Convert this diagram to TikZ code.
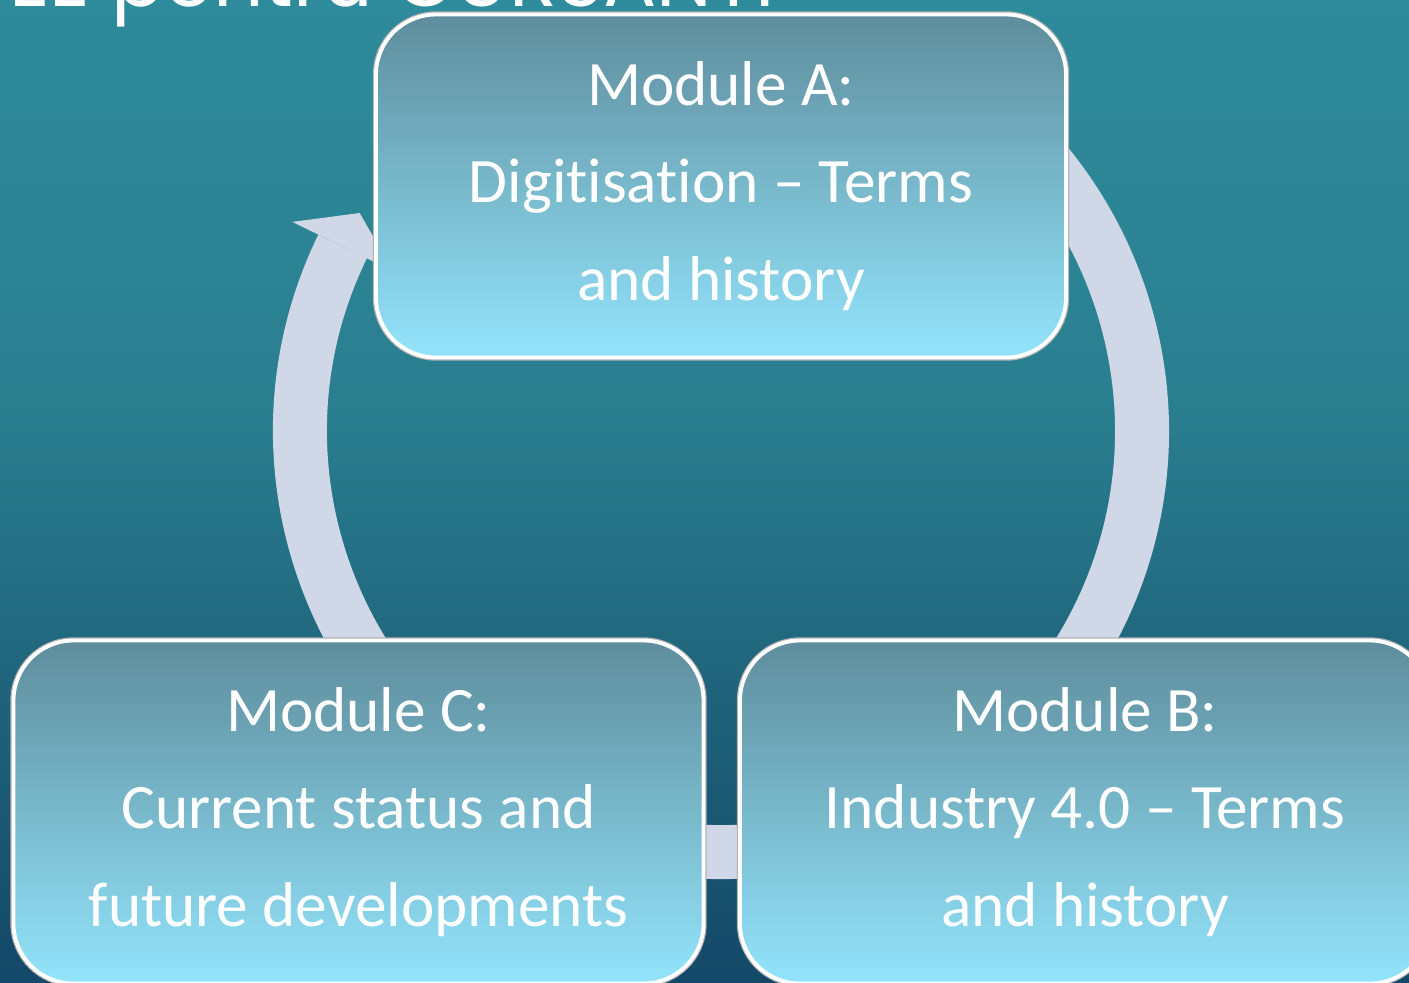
\documentclass[tikz,border=0pt]{standalone}
\usepackage{fontspec}
\setmainfont[Ligatures=NoCommon]{Carlito}
\newfontfamily\titlefont{Poppins}
\usetikzlibrary{calc,positioning}

\definecolor{bgtop}{HTML}{2E8B9B}
\definecolor{bgmid}{HTML}{2A7F8F}
\definecolor{bgbot}{HTML}{144868}
\definecolor{ringcol}{HTML}{D0D8E8}
\definecolor{boxtop}{HTML}{5E8D9C}
\definecolor{boxbot}{HTML}{93E4FB}

\tikzset{
  module/.style={rounded corners=1.2cm, top color=boxtop, bottom color=boxbot,
    draw=white, line width=2.2pt, preaction={draw=black!30, line width=3.6pt},
    minimum width=13.8cm, minimum height=6.86cm, align=center, text=white,
    font=\fontsize{36}{55.3}\selectfont},
  titletext/.style={text=white, font=\titlefont\fontsize{45}{50}\selectfont}
}

\begin{document}
\begin{tikzpicture}[scale=0.2]
\tikzstyle{every node}+=[inner sep=0pt]
\clip (0,0) rectangle (140.9,-98.2);
\shade [top color=bgtop, bottom color=bgmid] (0,0) rectangle (140.9,-40);
\shade [top color=bgmid, bottom color=bgbot] (0,-40) rectangle (140.9,-98.2);
\draw (77.5,-0.6) node [anchor=base east, titletext] (title) {EE pentru CURSANTI};
\coordinate (c) at (72.1,-43.1);
\draw [ringcol, line width=1.08cm] ($(c)+(154:42.1)$) arc [start angle=154, end angle=420, radius=42.1];
\fill [ringcol] ($(c)+(154:47.7)$) -- ($(c)+(148.9:42.2)$) -- ($(c)+(154:36.5)$) -- cycle;
\draw (72.1,-18.6) node [module] (modA) {Module A:\\Digitisation – Terms\\and history};
\draw (108.5,-81.2) node [module] (modB) {Module B:\\Industry 4.0 – Terms\\and history};
\draw (35.85,-81.2) node [module] (modC) {Module C:\\Current status and\\future developments};
\end{tikzpicture}
\end{document}
